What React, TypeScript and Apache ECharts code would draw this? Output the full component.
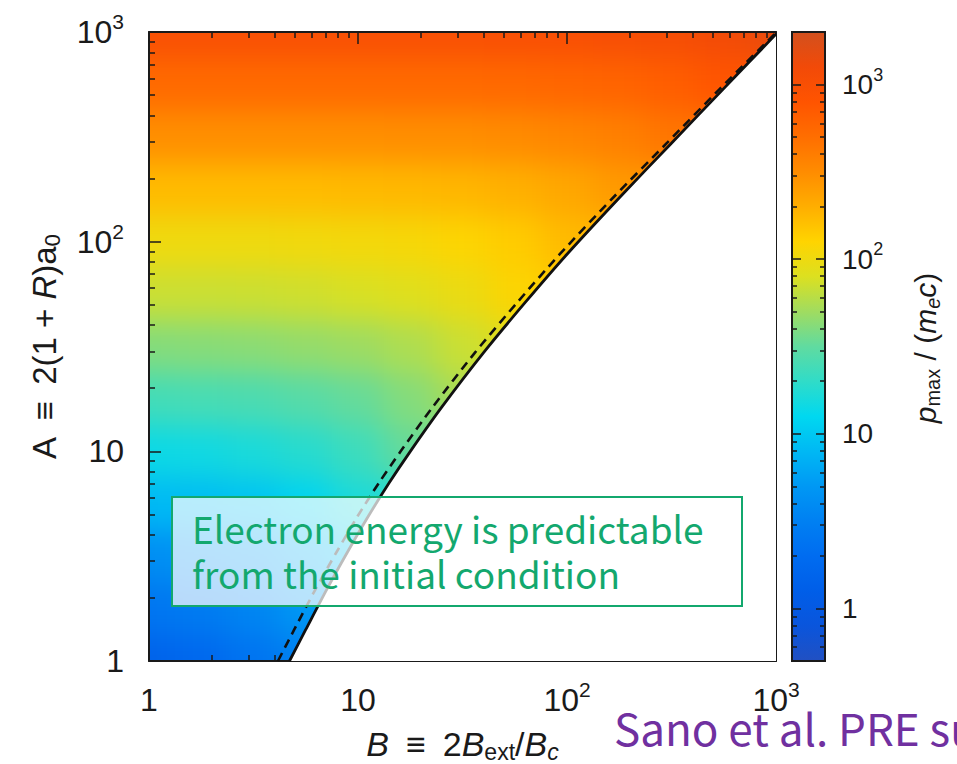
import React, { useEffect, useRef } from 'react';
import * as echarts from 'echarts';

// ---- data -------------------------------------------------------------

// log10 sample positions of the p_max map (quarter decades, one step past each edge)
const LOG_B = [-0.25, 0, 0.25, 0.5, 0.75, 1, 1.25, 1.5, 1.75, 2, 2.25, 2.5, 2.75, 3, 3.25];
const LOG_A = [-0.25, 0, 0.25, 0.5, 0.75, 1, 1.25, 1.5, 1.75, 2, 2.25, 2.5, 2.75, 3, 3.25];

// p_max/(m_e c): one row per LOG_A entry (low A first), one column per LOG_B entry
const P_MAX = [
  [0.78, 0.87, 1.1, 1.7, 1.75, 1.75, 1.75, 1.75, 1.75, 1.75, 1.75, 1.75, 1.75, 1.75, 1.75],
  [1.35, 1.5, 1.75, 2.4, 3.2, 3.2, 3.2, 3.2, 3.2, 3.2, 3.2, 3.2, 3.2, 3.2, 3.2],
  [2.2, 2.5, 2.8, 3.5, 4.9, 5.6, 5.6, 5.6, 5.6, 5.6, 5.6, 5.6, 5.6, 5.6, 5.6],
  [3.9, 4.1, 4.6, 5.3, 7.0, 10, 10, 10, 10, 10, 10, 10, 10, 10, 10],
  [7.6, 8.0, 8.5, 9.5, 11.8, 16.3, 18.7, 18.7, 18.7, 18.7, 18.7, 18.7, 18.7, 18.7, 18.7],
  [13.8, 14.1, 14.8, 16.2, 18.3, 22.6, 33, 33, 33, 33, 33, 33, 33, 33, 33],
  [24, 24, 25, 26, 29, 33, 41, 54, 54, 54, 54, 54, 54, 54, 54],
  [41, 41, 42, 43, 46, 49, 56, 69, 85, 85, 85, 85, 85, 85, 85],
  [69, 69, 69, 70, 72, 77, 83, 96, 120, 135, 135, 135, 135, 135, 135],
  [102, 102, 102, 102, 105, 107, 112, 123, 138, 170, 182, 182, 182, 182, 182],
  [170, 170, 170, 170, 170, 174, 178, 182, 195, 219, 263, 275, 275, 275, 275],
  [302, 302, 302, 302, 302, 302, 309, 309, 324, 347, 380, 446, 468, 468, 468],
  [537, 537, 537, 537, 537, 537, 537, 537, 549, 575, 603, 661, 776, 794, 794],
  [976, 976, 976, 976, 976, 976, 976, 976, 1000, 1000, 1050, 1090, 1200, 1410, 1410],
  [1550, 1550, 1550, 1550, 1550, 1550, 1550, 1550, 1550, 1590, 1620, 1660, 1740, 1860, 2140],
];

// boundary of the accessible region (solid) and its estimate (dashed)
const SOLID_B = [4.7, 5.62, 7.08, 8.91, 11.2, 14.1, 17.8, 25.1, 39.8, 63.1, 100, 178, 316, 562, 1000];
const SOLID_A = [1.0, 1.41, 2.19, 3.31, 4.9, 7.08, 10.0, 16.2, 29.5, 51.3, 87.1, 162, 295, 537, 977];
const DASHED_B = [4.14, 4.95, 6.25, 7.9, 9.95, 12.6, 16.0, 22.7, 36.2, 57.8, 92.3, 166, 300, 540, 985];
const DASHED_A = [1.0, 1.41, 2.19, 3.31, 4.9, 7.08, 10.0, 16.2, 29.5, 51.3, 87.1, 162, 295, 537, 977];

// axis ranges
const B_RANGE = [1, 1000];
const A_RANGE = [1, 1000];
const P_RANGE = [0.5, 2000];
const P_TICK_TOP = 1000; // colour bar ticks stop at the last decade

// colour scale, evenly spaced in log10(p) from P_RANGE[0] to P_RANGE[1]
const COLOR_STOPS = [
  '#2150c2', '#0a55dc', '#005ee8', '#006cf0', '#0080f2', '#0098f4', '#00b8f4',
  '#00d8f0', '#30dcc8', '#60dba0', '#a0dc60', '#dce020', '#ffd400', '#ffae00',
  '#ff8c00', '#ff6e00', '#ff5400', '#f24a08', '#d2501e',
];

const NOTE_LINES = ['Electron energy is predictable', 'from the initial condition'];
const CITATION = 'Sano et al. PRE su';

// ---- layout -----------------------------------------------------------

const W = 957;
const H = 764;
const PLOT = { left: 149, top: 32, width: 627, height: 629 };
const BAR = { left: 792, top: 32, width: 33, height: 629 };
const OFF = 100; // overhang of the blurred map layer
const BLUR = 15;

const FONT = '"Liberation Sans", Arial, Helvetica, sans-serif';
const NOTE_FONT = '"Noto Sans CJK JP", "Noto Sans", sans-serif';
const INK = '#1a1a1a';
const GREEN = '#13a86e';
const PURPLE = '#7030a0';
const EN = '\u2002';

const log10 = (v: number) => Math.log10(v);

function powLabel(v: number) {
  const e = log10(v);
  const r = Math.round(e);
  if (Math.abs(e - r) > 1e-6) return '';
  if (r === 0) return '1';
  if (r === 1) return '10';
  return `10{sup|${r}}`;
}

function heatOption() {
  const decB = log10(B_RANGE[1]) - log10(B_RANGE[0]);
  const decA = log10(A_RANGE[1]) - log10(A_RANGE[0]);
  const xPer = PLOT.width / decB;
  const yPer = PLOT.height / decA;
  const stepB = LOG_B[1] - LOG_B[0];
  const stepA = LOG_A[1] - LOG_A[0];
  const cellW = stepB * xPer;
  const cellH = stepA * yPer;
  const left = OFF + PLOT.left + (LOG_B[0] - log10(B_RANGE[0])) * xPer - cellW / 2;
  const top = OFF + PLOT.top + (log10(A_RANGE[1]) - LOG_A[LOG_A.length - 1]) * yPer - cellH / 2;

  const data: number[][] = [];
  P_MAX.forEach((row, j) => row.forEach((p, i) => data.push([i, j, log10(p)])));

  return {
    animation: false,
    grid: { left, top, width: LOG_B.length * cellW, height: LOG_A.length * cellH, outerBoundsMode: 'none' },
    xAxis: { type: 'category', data: LOG_B.map(String), show: false },
    yAxis: { type: 'category', data: LOG_A.map(String), show: false },
    visualMap: {
      show: false,
      type: 'continuous',
      min: log10(P_RANGE[0]),
      max: log10(P_RANGE[1]),
      dimension: 2,
      inRange: { color: COLOR_STOPS },
    },
    series: [
      {
        type: 'heatmap',
        data,
        progressive: 0,
        itemStyle: { borderWidth: 0 },
        emphasis: { disabled: true },
      },
    ],
  };
}

function mainOption() {
  const tickLine = { color: INK, width: 1.5 };
  const frameLine = { color: INK, width: 2 };

  const logAxis = (o: any) => ({
    type: 'log',
    logBase: 10,
    axisLine: { show: true, lineStyle: frameLine },
    axisTick: { show: true, inside: true, length: 12, lineStyle: tickLine },
    minorTick: { show: true, splitNumber: 9, length: 6, lineStyle: tickLine },
    splitLine: { show: false },
    minorSplitLine: { show: false },
    axisLabel: { show: false },
    ...o,
  });

  const tickLabel = (size: number, supSize: number, margin: number) => ({
    show: true,
    fontSize: size,
    lineHeight: size + 10,
    fontFamily: FONT,
    color: INK,
    margin,
    formatter: powLabel,
    rich: {
      sup: {
        fontSize: supSize,
        fontFamily: FONT,
        color: INK,
        verticalAlign: 'top',
        padding: [0, 0, size + 10 - supSize, 0],
      },
    },
  });

  const nameRich = (size: number) => ({
    i: { fontSize: size, fontFamily: FONT, fontStyle: 'italic', color: INK },
    sub: { fontSize: size * 0.68, fontFamily: FONT, color: INK, verticalAlign: 'bottom', padding: [15, 0, 0, 0] },
    subi: { fontSize: size * 0.68, fontFamily: FONT, fontStyle: 'italic', color: INK, verticalAlign: 'bottom', padding: [15, 0, 0, 0] },
  });

  // the colour bar's tick axes cover P_RANGE[0]..P_TICK_TOP only
  const barPerDec = BAR.height / (log10(P_RANGE[1]) - log10(P_RANGE[0]));
  const barTickTop = BAR.top + (log10(P_RANGE[1]) - log10(P_TICK_TOP)) * barPerDec;
  const barTicks = {
    left: BAR.left,
    width: BAR.width,
    top: barTickTop,
    height: BAR.top + BAR.height - barTickTop,
    outerBoundsMode: 'none',
  };

  const solid = SOLID_B.map((b, i) => [b, SOLID_A[i]]);
  const dashed = DASHED_B.map((b, i) => [b, DASHED_A[i]]);

  const gradient = {
    type: 'linear',
    x: 0,
    y: 1,
    x2: 0,
    y2: 0,
    colorStops: COLOR_STOPS.map((c, i) => ({ offset: i / (COLOR_STOPS.length - 1), color: c })),
  };

  const barAxis = (position: string, label: any) =>
    logAxis({
      gridIndex: 1,
      position,
      min: P_RANGE[0],
      max: P_TICK_TOP,
      axisLine: { show: false },
      axisTick: { show: true, inside: true, length: 9, lineStyle: tickLine },
      minorTick: { show: true, splitNumber: 9, length: 5, lineStyle: tickLine },
      axisLabel: label,
      z: 5,
    });

  return {
    animation: false,
    grid: [{ ...PLOT, outerBoundsMode: 'none' }, barTicks],
    xAxis: [
      logAxis({
        gridIndex: 0,
        position: 'bottom',
        min: B_RANGE[0],
        max: B_RANGE[1],
        axisLabel: tickLabel(32, 21, 18),
        name: `{i|B}${EN}≡${EN}2{i|B}{sub|ext}/{i|B}{subi|c}`,
        nameLocation: 'middle',
        nameGap: 64,
        nameTextStyle: { fontSize: 34, fontFamily: FONT, color: INK, rich: nameRich(34) },
      }),
      logAxis({ gridIndex: 0, position: 'top', min: B_RANGE[0], max: B_RANGE[1] }),
      { type: 'value', gridIndex: 1, min: 0, max: 1, show: false },
    ],
    yAxis: [
      logAxis({
        gridIndex: 0,
        position: 'left',
        min: A_RANGE[0],
        max: A_RANGE[1],
        axisLabel: tickLabel(32, 21, 25),
        name: `A${EN}≡${EN}2(1 + {i|R})a{sub|0}`,
        nameLocation: 'middle',
        nameRotate: 90,
        nameGap: 86,
        nameTextStyle: { fontSize: 33, fontFamily: FONT, color: INK, rich: nameRich(33) },
      }),
      logAxis({ gridIndex: 0, position: 'right', min: A_RANGE[0], max: A_RANGE[1] }),
      barAxis('left', { show: false }),
      barAxis('right', tickLabel(28, 18, 17)),
    ],
    series: [
      {
        type: 'line',
        name: 'boundary',
        xAxisIndex: 0,
        yAxisIndex: 0,
        data: solid,
        symbol: 'none',
        smooth: 0.25,
        silent: true,
        lineStyle: { color: '#111', width: 2.8 },
        areaStyle: { color: '#ffffff', opacity: 1, origin: 'start' },
        z: 3,
      },
      {
        type: 'line',
        name: 'estimate',
        xAxisIndex: 0,
        yAxisIndex: 0,
        data: dashed,
        symbol: 'none',
        smooth: 0.25,
        silent: true,
        lineStyle: { color: '#111', width: 2.6, type: [9, 6] },
        z: 4,
      },
    ],
    graphic: [
      {
        type: 'rect',
        z: -5,
        shape: { x: BAR.left, y: BAR.top, width: BAR.width, height: BAR.height },
        style: { fill: gradient, stroke: INK, lineWidth: 2 },
        silent: true,
      },
      {
        type: 'text',
        x: 925,
        y: 348,
        rotation: Math.PI / 2,
        style: {
          text: '{i|p}{sub|max} / ({i|m}{subi|e}{i|c})',
          fontSize: 30,
          fontFamily: FONT,
          fill: INK,
          align: 'center',
          verticalAlign: 'middle',
          rich: {
            i: { fontSize: 30, fontFamily: FONT, fontStyle: 'italic', fill: INK },
            sub: { fontSize: 20, fontFamily: FONT, fill: INK, verticalAlign: 'bottom', padding: [15, 0, 0, 0] },
            subi: { fontSize: 20, fontFamily: FONT, fontStyle: 'italic', fill: INK, verticalAlign: 'bottom', padding: [15, 0, 0, 0] },
          },
        },
      },
      {
        type: 'rect',
        z: 100,
        shape: { x: 172, y: 497, width: 570, height: 109 },
        style: { fill: 'rgba(255,255,255,0.72)', stroke: GREEN, lineWidth: 2 },
        silent: true,
      },
      ...NOTE_LINES.map((t, k) => ({
        type: 'text',
        z: 101,
        x: 192,
        y: 528 + k * 45,
        style: {
          text: t,
          fontSize: 37,
          lineHeight: 40,
          fontFamily: NOTE_FONT,
          fill: GREEN,
          align: 'left',
          verticalAlign: 'middle',
        },
      })),
      {
        type: 'text',
        z: 101,
        x: 614,
        y: 727,
        style: {
          text: CITATION,
          fontSize: 44,
          fontFamily: NOTE_FONT,
          fill: PURPLE,
          align: 'left',
          verticalAlign: 'middle',
        },
      },
    ],
  };
}

export default function App() {
  const heatRef = useRef<HTMLDivElement>(null);
  const mainRef = useRef<HTMLDivElement>(null);

  useEffect(() => {
    const heat = echarts.init(heatRef.current!, null, { renderer: 'svg' });
    heat.setOption(heatOption() as any);
    const main = echarts.init(mainRef.current!, null, { renderer: 'svg' });
    main.setOption(mainOption() as any);
    return () => {
      heat.dispose();
      main.dispose();
    };
  }, []);

  const heatW = W + 2 * OFF;
  const heatH = H + 2 * OFF;
  const clip = `inset(${OFF + PLOT.top}px ${heatW - (OFF + PLOT.left + PLOT.width)}px ${
    heatH - (OFF + PLOT.top + PLOT.height)
  }px ${OFF + PLOT.left}px)`;

  return (
    <div style={{ position: 'absolute', left: 0, top: 0, width: W, height: H, overflow: 'hidden', background: '#fff' }}>
      <div
        ref={heatRef}
        style={{
          position: 'absolute',
          left: -OFF,
          top: -OFF,
          width: heatW,
          height: heatH,
          filter: `blur(${BLUR}px)`,
          clipPath: clip,
        }}
      />
      <div ref={mainRef} style={{ position: 'absolute', left: 0, top: 0, width: W, height: H }} />
    </div>
  );
}
